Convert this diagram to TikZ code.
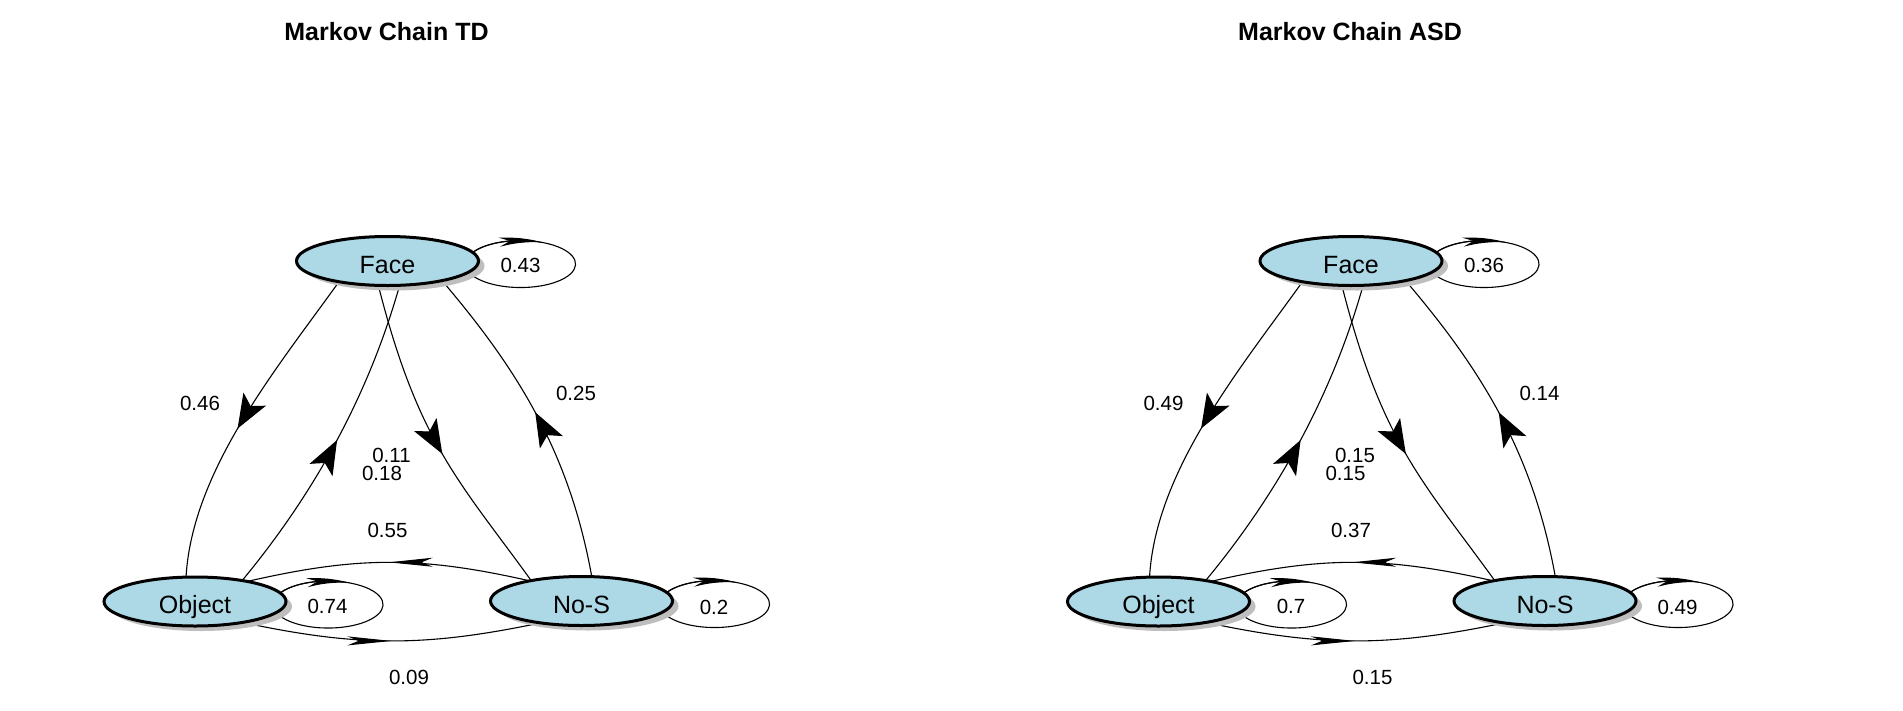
\documentclass[tikz,border=0pt]{standalone}
\usepackage{fontspec}
\setmainfont{Liberation Sans}
\usetikzlibrary{arrows.meta,bending,decorations.markings,calc,shapes.geometric,shadows}
\pgfdeclarelayer{bg}
\pgfdeclarelayer{edges}
\pgfsetlayers{bg,edges,main}
\definecolor{nodeblue}{HTML}{ADD8E6}
\definecolor{shadowgray}{HTML}{BEBEBE}
\tikzset{
  bigtip/.tip={Stealth[length=34pt,width=26pt,inset=8pt]},
  longtip/.tip={Stealth[length=44pt,width=9pt,inset=11pt]},
  state/.style={ellipse, draw=black, line width=3pt, fill=nodeblue,
    minimum width=182pt, minimum height=49pt, inner sep=0pt,
    text height=24pt, text depth=0pt, font=\fontsize{25}{30}\selectfont,
    general shadow={shadow xshift=6pt, shadow yshift=-5pt, fill=shadowgray, draw=none}},
  lab/.style={font=\fontsize{20.5}{24}\selectfont, inner sep=0pt},
  charttitle/.style={font=\bfseries\fontsize{25}{30}\selectfont, inner sep=0pt, anchor=base},
  edge/.style={line width=1.1pt, draw=black},
  looparrow/.style={line width=1.1pt, draw=black, -{Stealth[length=44pt,width=9pt,inset=11pt,bend]}},
  markat/.style 2 args={postaction={decorate},
    decoration={markings, mark=at position #1 with {\arrow{#2}}}}
}
\newcommand{\mcloop}[1]{%
  \draw[edge] ($(#1)+(83.2,-6.9)$) arc[start angle=155, end angle=-155, x radius=55pt, y radius=23.5pt];
  \draw[looparrow] ($(#1)+(83.2,-6.9)$) arc[start angle=155, end angle=66, x radius=55pt, y radius=23.5pt];
}
\newcommand{\mcpanel}[1]{%
  \node[state] (#1F) at (\mcX+387.5,261) {Face};
  \node[state] (#1O) at (\mcX+195,601.5) {Object};
  \node[state] (#1N) at (\mcX+581.5,601) {No-S};
  \node[charttitle] (#1T) at (\mcX+386.5,40) {\mcTitle};
  \node[lab] (#1la) at (\mcX+200,403.5) {\mcA};
  \node[lab] (#1lb) at (\mcX+391.5,455.5) {\mcB};
  \node[lab] (#1lc) at (\mcX+382,473) {\mcC};
  \node[lab] (#1ld) at (\mcX+576,393.5) {\mcD};
  \node[lab] (#1le) at (\mcX+387.5,530) {\mcE};
  \node[lab] (#1lf) at (\mcX+409,677) {\mcF};
  \node[lab] (#1lg) at ($(#1F)+(133,4)$) {\mcG};
  \node[lab] (#1lh) at ($(#1O)+(132.5,5)$) {\mcH};
  \node[lab] (#1li) at ($(#1N)+(132.5,6.5)$) {\mcI};
  \begin{pgfonlayer}{edges}
    % Face -> Object
    \draw[edge, markat={0.53}{bigtip}] ($(#1F)+(-48,20)$) .. controls (\mcX+278,367) and (\mcX+192,470) .. ($(#1O)+(-9,-24)$);
    % Object -> Face
    \draw[edge, markat={0.5}{bigtip}] ($(#1O)+(48,-22)$) .. controls (\mcX+317,490) and (\mcX+370,391) .. ($(#1F)+(12.5,23)$);
    % Face -> No-S
    \draw[edge, markat={0.54}{bigtip}] ($(#1F)+(-9.5,23)$) .. controls (\mcX+418,443) and (\mcX+460,482) .. ($(#1N)+(-50,-20)$);
    % No-S -> Face
    \draw[edge, markat={0.52}{bigtip}] ($(#1N)+(10.5,-23)$) .. controls (\mcX+569,448) and (\mcX+513,364) .. ($(#1F)+(54,19)$);
    % No-S -> Object
    \draw[edge, markat={0.5}{longtip}] ($(#1N)+(-51,-20)$) .. controls (\mcX+420,556) and (\mcX+358,556) .. ($(#1O)+(52,-20)$);
    % Object -> No-S
    \draw[edge, markat={0.5}{longtip}] ($(#1O)+(48,21)$) .. controls (\mcX+358,647) and (\mcX+425,647) .. ($(#1N)+(-41.5,22)$);
    % self loops
    \mcloop{#1F}
    \mcloop{#1O}
    \mcloop{#1N}
  \end{pgfonlayer}
}
\begin{document}
\begin{tikzpicture}[x=1pt, y=-1pt]
  \useasboundingbox (0,0) rectangle (1903,710);
  \begin{pgfonlayer}{bg}
    \fill[white] (0,0) rectangle (1903,710);
  \end{pgfonlayer}
  \def\mcX{0}
  \def\mcTitle{Markov Chain TD}
  \def\mcA{0.46}\def\mcB{0.11}\def\mcC{0.18}\def\mcD{0.25}\def\mcE{0.55}
  \def\mcF{0.09}\def\mcG{0.43}\def\mcH{0.74}\def\mcI{0.2}
  \mcpanel{L}
  \def\mcX{963.5}
  \def\mcTitle{Markov Chain ASD}
  \def\mcA{0.49}\def\mcB{0.15}\def\mcC{0.15}\def\mcD{0.14}\def\mcE{0.37}
  \def\mcF{0.15}\def\mcG{0.36}\def\mcH{0.7}\def\mcI{0.49}
  \mcpanel{R}
\end{tikzpicture}
\end{document}
